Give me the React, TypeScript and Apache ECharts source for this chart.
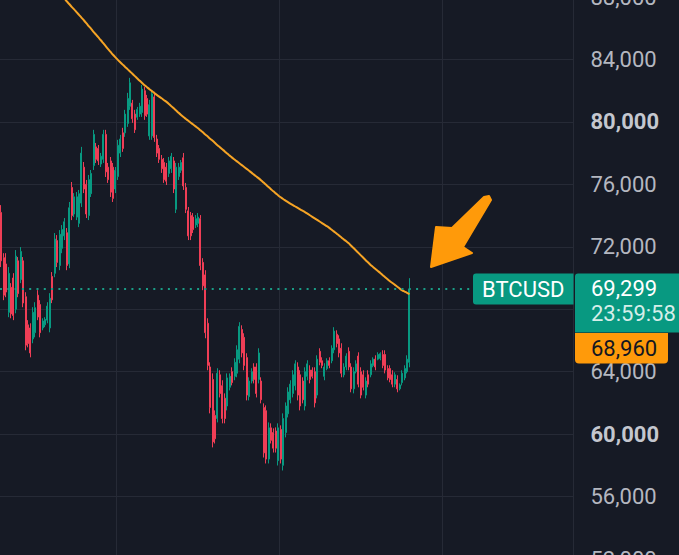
import React, { useEffect, useRef } from "react";
import * as echarts from "echarts";

// ---- data ----
const symbolName = "BTCUSD";
const lastPrice = 69299;
const maLast = 68960;
const countdown = "23:59:58";

const yMin = 52000;
const yMax = 88000;
const yStep = 4000;

// [open, close, low, high]
const ohlc: [number, number, number, number][] = [
  [74200, 71100, 70700, 74670], [71300, 68900, 68580, 71590], [70900, 69100, 68770, 71590], [67800, 70300, 67490, 70700],
  [69400, 67700, 67420, 69670], [70000, 67600, 67300, 70310], [68000, 71400, 67740, 71790], [71100, 69000, 68770, 71340],
  [69900, 71700, 69670, 71980], [71100, 68400, 68130, 71340], [68800, 65700, 65370, 69090], [67000, 65800, 65560, 67300],
  [66800, 65200, 64920, 67100], [66100, 67800, 65820, 68130], [66500, 68100, 66200, 68450], [68900, 67500, 67300, 69220],
  [68300, 66500, 66200, 68580], [66800, 67250, 66650, 67420], [67000, 67350, 66850, 67490], [67300, 68200, 67100, 68450],
  [66800, 68700, 66520, 69030], [70100, 68600, 68390, 70380], [70300, 72500, 70050, 72880], [72400, 71000, 70700, 72750],
  [70800, 72800, 70500, 73070], [71900, 73100, 71590, 73390], [72700, 73600, 72430, 73840], [72900, 70800, 70500, 73200],
  [70900, 74500, 70630, 74870], [75800, 74000, 73710, 76150], [74100, 75200, 73900, 75440], [73900, 75200, 73710, 75510],
  [73500, 75400, 73260, 75640], [74800, 78000, 74550, 78400], [77100, 75700, 75440, 77430], [76000, 74100, 73840, 76280],
  [74000, 76300, 73710, 76600], [75400, 76700, 75190, 76920], [77200, 79200, 76920, 79490], [78400, 77600, 77370, 78650],
  [78300, 77500, 77240, 78520], [77300, 77800, 77110, 78010], [77600, 79200, 77370, 79490], [79200, 76800, 76470, 79490],
  [77100, 76300, 76090, 77370], [77500, 75500, 75190, 77750], [77100, 75100, 74870, 77370], [75700, 76900, 75440, 77110],
  [76500, 78500, 76280, 78850], [78000, 78900, 77750, 79170], [79300, 78300, 78080, 79620], [79300, 80500, 79040, 80770],
  [79900, 81500, 79680, 81860], [81000, 82500, 80770, 82820], [81200, 80200, 79940, 81410], [80500, 79500, 79290, 80770],
  [80300, 80800, 80130, 80960], [80500, 81000, 80320, 81220], [80600, 82100, 80320, 82370], [82000, 80400, 80130, 82250],
  [81500, 80500, 80320, 81730], [79100, 81100, 78850, 81410], [79100, 81800, 78850, 82050], [81600, 79000, 78720, 81930],
  [78900, 78000, 77750, 79170], [78300, 77600, 77370, 78520], [77600, 77000, 76730, 77880], [77400, 76300, 76090, 77690],
  [77100, 76200, 75960, 77370], [76700, 77500, 76470, 77750], [77000, 77800, 76730, 78010], [77500, 75700, 75440, 77750],
  [74400, 77100, 74160, 77370], [76500, 77100, 76280, 77370], [76900, 77400, 76730, 77560], [77700, 75900, 75640, 78010],
  [75800, 74400, 74160, 76090], [74300, 72700, 72430, 74550], [74000, 72700, 72430, 74230], [73900, 73100, 72880, 74160],
  [73400, 73800, 73200, 74030], [73500, 73900, 73260, 74160], [73800, 70800, 70500, 74030], [71000, 69500, 69220, 71270],
  [70200, 66500, 66140, 70500], [67100, 64400, 64090, 67420], [64300, 61700, 61330, 64600], [63500, 59500, 59150, 63890],
  [61200, 59700, 59400, 61520], [61000, 63900, 60750, 64220], [63800, 62600, 62350, 64090], [63100, 61000, 60690, 63450],
  [62300, 61000, 60690, 62610], [61800, 63600, 61520, 63890], [63000, 63700, 62800, 63890], [64000, 63300, 63120, 64280],
  [63700, 64600, 63450, 64860], [63900, 65400, 63640, 65690], [64800, 66900, 64540, 67170], [66700, 65200, 64920, 66970],
  [66200, 64400, 64090, 66460], [64900, 62500, 62160, 65180], [62400, 63400, 62160, 63640], [63400, 64000, 63250, 64220],
  [64300, 63500, 63250, 64540], [64300, 62600, 62350, 64540], [63500, 65200, 63250, 65500], [63400, 62200, 61970, 63640],
  [61700, 58800, 58500, 61970], [61500, 58400, 58120, 61840], [58400, 60400, 58120, 60750], [60400, 59600, 59400, 60690],
  [60100, 59100, 58820, 60370], [60200, 59100, 58820, 60430], [58300, 60400, 57990, 60690], [60300, 58400, 58120, 60560],
  [58000, 61000, 57670, 61330], [60100, 61800, 59790, 62030], [61300, 62700, 61070, 63000], [62200, 63200, 61970, 63450],
  [62600, 63800, 62350, 64090], [63100, 64500, 62800, 64730], [64300, 62500, 62160, 64600], [63800, 61800, 61520, 64090],
  [63400, 62200, 61970, 63640], [61800, 64000, 61520, 64280], [63700, 64500, 63450, 64730], [64100, 63500, 63250, 64410],
  [64100, 63700, 63570, 64280], [64000, 62000, 61710, 64280], [62500, 64800, 62290, 65050], [65300, 64600, 64410, 65500],
  [64700, 64400, 64220, 64920], [63700, 64300, 63450, 64540], [64200, 64700, 64090, 64860], [64700, 64400, 64220, 64920],
  [64700, 65500, 64540, 65690], [65400, 66600, 65180, 66850], [66400, 65800, 65560, 66650], [66100, 65200, 64920, 66330],
  [65500, 63900, 63640, 65820], [63800, 64300, 63640, 64540], [64300, 65000, 64090, 65180], [65300, 64300, 64090, 65560],
  [64300, 62900, 62680, 64540], [62900, 64000, 62610, 64280], [64000, 64500, 63890, 64730], [65000, 63200, 63000, 65240],
  [64000, 62500, 62290, 64280], [63800, 63000, 62800, 64090], [62500, 63400, 62290, 63640], [63800, 63200, 63000, 64090],
  [63800, 64500, 63640, 64730], [64400, 64800, 64280, 64920], [64800, 64300, 64090, 65050], [64800, 65100, 64730, 65240],
  [64850, 65150, 64730, 65240], [65100, 64400, 64220, 65370], [65100, 64100, 63890, 65370], [64200, 63600, 63450, 64410],
  [64200, 63500, 63320, 64410], [63800, 63200, 63000, 64090], [63200, 63800, 63000, 63960], [63500, 62900, 62680, 63770],
  [62900, 63150, 62800, 63250], [63300, 63900, 63120, 64090], [63600, 64200, 63450, 64410], [64000, 64800, 63890, 65050],
  [64600, 69299, 64280, 69990],
];

// long moving average (orange line)
const maValues: number[] = [
  92600, 92420, 92230, 92050, 91870, 91690, 91500, 91320, 91140, 90950,
  90780, 90600, 90410, 90230, 90050, 89870, 89690, 89510, 89330, 89150,
  88970, 88800, 88650, 88470, 88300, 88110, 87920, 87720, 87550, 87370,
  87210, 87030, 86860, 86680, 86510, 86330, 86140, 85960, 85770, 85590,
  85410, 85230, 85040, 84850, 84660, 84480, 84300, 84130, 83970, 83820,
  83670, 83520, 83380, 83230, 83080, 82930, 82780, 82630, 82490, 82350,
  82220, 82090, 81970, 81850, 81730, 81620, 81510, 81390, 81280, 81150,
  81010, 80870, 80730, 80580, 80440, 80310, 80190, 80070, 79950, 79830,
  79710, 79590, 79460, 79330, 79190, 79060, 78920, 78790, 78650, 78510,
  78380, 78240, 78110, 77970, 77840, 77710, 77590, 77470, 77350, 77230,
  77110, 76990, 76870, 76750, 76620, 76500, 76380, 76250, 76110, 75970,
  75830, 75690, 75550, 75420, 75290, 75170, 75060, 74960, 74860, 74760,
  74670, 74580, 74490, 74400, 74310, 74220, 74120, 74020, 73920, 73820,
  73720, 73620, 73520, 73420, 73320, 73210, 73090, 72970, 72850, 72720,
  72600, 72470, 72350, 72220, 72070, 71920, 71760, 71610, 71450, 71300,
  71140, 70990, 70840, 70710, 70580, 70450, 70320, 70180, 70050, 69920,
  69790, 69680, 69560, 69440, 69320, 69210, 69130, 69050, 68960,
];

const totalSlots = 236; // candles plus empty space on the right
const categories = Array.from({ length: totalSlots }, (_, i) => `D${i + 1}`);
const monthStarts = [48, 115, 182];

// ---- styles ----
const BG = "#161a25";
const UP = "#089981";
const DOWN = "#ef3e56";
const ORANGE_LINE = "#f6a425";
const ORANGE = "#ff9a0a";
const GRID = "#262a36";
const LABEL = "#b4b7c0";
const FONT = "Roboto, 'Noto Sans', sans-serif";

const W = 679;
const H = 562;
const PLOT_RIGHT = 573.5;

export default function App() {
  const ref = useRef<HTMLDivElement>(null);

  useEffect(() => {
    if (!ref.current) return;
    const chart = echarts.init(ref.current, undefined, { renderer: "svg" });

    chart.setOption({
      animation: false,
      backgroundColor: BG,
      grid: {
        left: 0,
        right: W - PLOT_RIGHT,
        top: 0,
        bottom: 0,
        containLabel: false,
        outerBoundsMode: "none",
      },
      xAxis: {
        type: "category",
        data: categories,
        boundaryGap: true,
        axisLine: { show: false },
        axisTick: { show: false },
        axisLabel: { show: false },
        splitLine: {
          show: true,
          interval: (index: number) => monthStarts.includes(index),
          lineStyle: { color: GRID, width: 1 },
        },
      },
      yAxis: {
        type: "value",
        position: "right",
        min: yMin,
        max: yMax,
        interval: yStep,
        axisLine: { show: false },
        axisTick: { show: false },
        splitLine: { show: true, lineStyle: { color: GRID, width: 1 } },
        axisLabel: {
          show: true,
          inside: false,
          margin: 17,
          align: "left",
          verticalAlign: "middle",
          showMinLabel: true,
          showMaxLabel: true,
          hideOverlap: false,
          color: LABEL,
          fontSize: 22,
          fontFamily: FONT,
          formatter: (v: number) => {
            // the price tag hides the tick label right beside the last price
            if (Math.abs(v - lastPrice) < 2000) return "";
            const s = v.toLocaleString("en-US");
            return v % 20000 === 0 ? `{b|${s}}` : s;
          },
          rich: {
            b: { fontWeight: "bold", fontSize: 22, fontFamily: FONT, color: "#c4c7cf" },
          },
        },
      },
      series: [
        {
          type: "candlestick",
          data: ohlc,
          barWidth: 1.5,
          z: 2,
          itemStyle: {
            color: UP,
            color0: DOWN,
            borderColor: UP,
            borderColor0: DOWN,
            borderWidth: 1,
          },
          markLine: {
            silent: true,
            symbol: ["none", "none"],
            label: { show: false },
            lineStyle: { color: "#1a9c86", type: [2, 5.3], width: 2 },
            data: [{ yAxis: lastPrice }],
          },
        },
        {
          type: "line",
          data: maValues,
          showSymbol: false,
          smooth: 0.3,
          z: 4,
          lineStyle: { color: ORANGE_LINE, width: 2 },
        },
      ],
    });

    const yLast = chart.convertToPixel({ yAxisIndex: 0 }, lastPrice) as number;
    const textStyle = (text: string, fill: string, align: string) => ({
      text,
      fill,
      fontSize: 22,
      fontFamily: FONT,
      align,
      verticalAlign: "middle",
    });
    const arrowPts = [
      [484, 200], [489, 199], [491, 203], [463, 250], [472, 256],
      [431, 270], [436, 230], [452, 231],
    ];

    chart.setOption({
      graphic: [
        {
          type: "rect",
          z: 100,
          shape: { x: 473, y: yLast - 15.5, width: PLOT_RIGHT - 473, height: 31, r: [3, 0, 0, 3] },
          style: { fill: UP },
        },
        {
          type: "text",
          z: 101,
          x: (473 + PLOT_RIGHT) / 2,
          y: yLast + 1,
          style: textStyle(symbolName, "#ffffff", "center"),
        },
        {
          type: "rect",
          z: 100,
          shape: { x: 575, y: yLast - 15.5, width: 110, height: 59, r: [3, 0, 0, 0] },
          style: { fill: UP },
        },
        {
          type: "text",
          z: 101,
          x: 591,
          y: yLast,
          style: textStyle(lastPrice.toLocaleString("en-US"), "#ffffff", "left"),
        },
        {
          type: "text",
          z: 101,
          x: 591,
          y: yLast + 25,
          style: textStyle(countdown, "#d6eee9", "left"),
        },
        {
          type: "rect",
          z: 100,
          shape: { x: 575, y: yLast + 44, width: 93, height: 30.5, r: [0, 0, 4, 4] },
          style: { fill: ORANGE },
        },
        {
          type: "text",
          z: 101,
          x: 591,
          y: yLast + 59.5,
          style: textStyle(maLast.toLocaleString("en-US"), "#131722", "left"),
        },
        {
          type: "polygon",
          z: 102,
          shape: { points: arrowPts },
          style: { fill: ORANGE, stroke: ORANGE, lineWidth: 2, lineJoin: "round" },
        },
      ],
    });

    return () => chart.dispose();
  }, []);

  return (
    <div
      ref={ref}
      style={{ position: "fixed", left: 0, top: -3, width: W, height: H, background: BG }}
    />
  );
}
